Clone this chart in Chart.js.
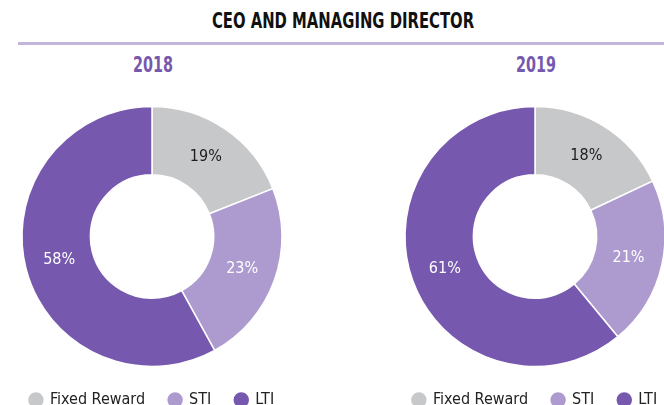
<!DOCTYPE html>
<html>
<head>
<meta charset="utf-8">
<script src="https://cdn.jsdelivr.net/npm/chart.js@4.4.1/dist/chart.umd.min.js"></script>
<style>
  html, body { margin: 0; padding: 0; background: #fff; }
  body { width: 664px; height: 405px; position: relative; overflow: hidden;
         font-family: "DejaVu Sans Condensed", "DejaVu Sans", sans-serif; }
  .title { position: absolute; left: 43px; width: 600px; top: 9px; text-align: center;
           font-weight: bold; font-size: 21px; color: #111; transform: scaleX(0.785); }
  .rule { position: absolute; left: 18px; right: 0; top: 42px; height: 3px; background: #c3b6dc; }
  .year { position: absolute; top: 53px; width: 120px; text-align: center;
          font-weight: bold; font-size: 21px; color: #7658ae; transform: scaleX(0.76); }
  .box { position: absolute; top: 105px; width: 340px; height: 313px; }
</style>
</head>
<body>
<div class="title">CEO AND MANAGING DIRECTOR</div>
<div class="rule"></div>
<div class="year" style="left:93px">2018</div>
<div class="year" style="left:476px">2019</div>
<div class="box" style="left:-18px"><canvas id="chart2018"></canvas></div>
<div class="box" style="left:365px"><canvas id="chart2019"></canvas></div>
<script>
const categories = ["Fixed Reward", "STI", "LTI"];
const values2018 = [19, 23, 58];
const values2019 = [18, 21, 61];
const sliceColors = ["#c7c8ca", "#ad9bd0", "#7658ae"];
const labelColors = ["#1e1c1d", "#ffffff", "#ffffff"];

const FONT = '"DejaVu Sans Condensed", "DejaVu Sans", sans-serif';

// writes the percentage inside each slice
const sliceLabels = {
  id: "sliceLabels",
  afterDatasetsDraw(chart) {
    const ctx = chart.ctx;
    const meta = chart.getDatasetMeta(0);
    ctx.save();
    ctx.font = "16px " + FONT;
    ctx.textAlign = "center";
    ctx.textBaseline = "middle";
    meta.data.forEach((arc, i) => {
      const p = arc.getProps(["x", "y", "startAngle", "endAngle", "innerRadius", "outerRadius"], true);
      const mid = (p.startAngle + p.endAngle) / 2;
      const r = (p.innerRadius + p.outerRadius) / 2;
      ctx.fillStyle = labelColors[i];
      ctx.fillText(chart.data.datasets[0].data[i] + "%", p.x + Math.cos(mid) * r, p.y + Math.sin(mid) * r);
    });
    ctx.restore();
  }
};

function makeDoughnut(id, values) {
  const ctx = document.getElementById(id).getContext("2d");
  return new Chart(ctx, {
    type: "doughnut",
    data: {
      labels: categories,
      datasets: [
        {
          data: values,
          backgroundColor: sliceColors,
          borderColor: "#ffffff",
          borderWidth: 1.5,
        },
      ],
    },
    options: {
      responsive: true,
      maintainAspectRatio: false,
      animation: false,
      radius: 130,
      cutout: 62,
      layout: { padding: 0 },
      plugins: {
        legend: {
          position: "bottom",
          labels: {
            usePointStyle: true,
            pointStyle: "circle",
            boxWidth: 12,
            boxHeight: 12,
            padding: 24,
            color: "#222",
            font: { family: FONT, size: 16 },
          },
        },
        tooltip: { enabled: false },
      },
    },
    plugins: [sliceLabels],
  });
}

makeDoughnut("chart2018", values2018);
makeDoughnut("chart2019", values2019);
</script>
</body>
</html>
